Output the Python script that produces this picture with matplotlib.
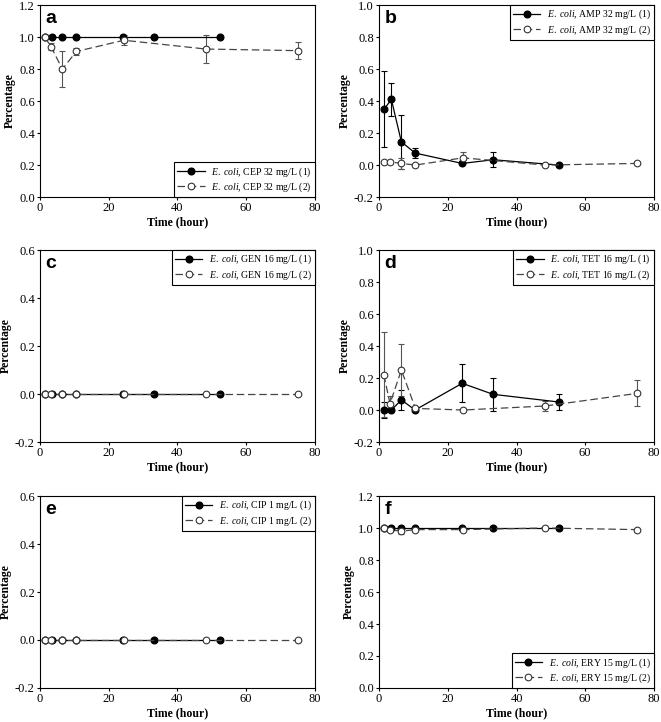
import matplotlib
matplotlib.use('Agg')
import matplotlib.pyplot as plt

plt.rcParams['font.family'] = ['Liberation Serif', 'DejaVu Serif']
plt.rcParams['mathtext.fontset'] = 'custom'
plt.rcParams['mathtext.it'] = 'Liberation Serif:italic'
plt.rcParams['mathtext.rm'] = 'Liberation Serif'

# time points (hour)
t1 = [1.5, 3.6, 6.5, 10.5, 24.2, 33.2, 52.3]
t2 = [1.4, 3.2, 6.5, 10.6, 24.4, 48.3, 75.1]

cep_y1 = [1.0, 1.0, 1.0, 1.0, 1.0, 1.0, 1.0]
cep_e1 = [0, 0, 0, 0, 0, 0, 0]
cep_y2 = [1.0, 0.94, 0.80, 0.91, 0.98, 0.925, 0.915]
cep_e2 = [0, 0.02, 0.115, 0.02, 0.03, 0.087, 0.053]

amp_y1 = [0.35, 0.41, 0.145, 0.075, 0.01, 0.033, 0.0]
amp_e1 = [0.24, 0.105, 0.17, 0.03, 0, 0.048, 0]
amp_y2 = [0.02, 0.02, 0.01, 0.0, 0.045, 0.0, 0.01]
amp_e2 = [0, 0, 0.035, 0, 0.035, 0, 0]

gen_y1 = [0, 0, 0, 0, 0, 0, 0]
gen_y2 = [0, 0, 0, 0, 0, 0, 0]

tet_y1 = [0.0, 0.0, 0.063, 0.0, 0.167, 0.098, 0.05]
tet_e1 = [0.05, 0, 0.065, 0, 0.12, 0.105, 0.05]
tet_y2 = [0.22, 0.04, 0.25, 0.01, 0.0, 0.025, 0.104]
tet_e2 = [0.265, 0.05, 0.165, 0, 0, 0.03, 0.082]

cip_y1 = [0, 0, 0, 0, 0, 0, 0]
cip_y2 = [0, 0, 0, 0, 0, 0, 0]

ery_y1 = [1.0, 1.0, 1.0, 1.0, 1.0, 1.0, 1.0]
ery_e1 = [0, 0, 0, 0, 0, 0, 0]
ery_y2 = [1.0, 0.99, 0.98, 0.99, 0.99, 1.0, 0.99]
ery_e2 = [0, 0, 0.02, 0, 0, 0, 0]

zeros = [0, 0, 0, 0, 0, 0, 0]

# (letter, drug label, y1, e1, y2, e2, ylim, legend loc)
panels = [
    ('a', 'CEP 32 mg/L', cep_y1, cep_e1, cep_y2, cep_e2, (0, 1.2), 'lower right'),
    ('b', 'AMP 32 mg/L', amp_y1, amp_e1, amp_y2, amp_e2, (-0.2, 1.0), 'upper right'),
    ('c', 'GEN 16 mg/L', gen_y1, zeros, gen_y2, zeros, (-0.2, 0.6), 'upper right'),
    ('d', 'TET 16 mg/L', tet_y1, tet_e1, tet_y2, tet_e2, (-0.2, 1.0), 'upper right'),
    ('e', 'CIP 1 mg/L', cip_y1, zeros, cip_y2, zeros, (-0.2, 0.6), 'upper right'),
    ('f', 'ERY 15 mg/L', ery_y1, ery_e1, ery_y2, ery_e2, (0, 1.2), 'lower right'),
]

fig = plt.figure(figsize=(6.61, 7.22), dpi=100)

lefts = [0.0605, 0.5734]
bottoms = [0.7271, 0.3878, 0.0471]
w, h = 0.416, 0.2659
dash = (0, (6, 3))

for i, (letter, drug, y1, e1, y2, e2, ylim, loc) in enumerate(panels):
    ax = fig.add_axes([lefts[i % 2], bottoms[i // 2], w, h])
    # error bars
    ax.errorbar(t1, y1, yerr=e1, fmt='none', ecolor='black', capsize=2.5,
                elinewidth=0.8, capthick=0.8, zorder=1)
    ax.errorbar(t2, y2, yerr=e2, fmt='none', ecolor='#555555', capsize=2.5,
                elinewidth=0.8, capthick=0.8, zorder=1)
    # lines + markers
    ax.plot(t1, y1, color='black', lw=0.9, marker='o', ms=4.8,
            mfc='black', mec='black',
            label=r'$\it{E.\ coli}$, ' + drug + ' (1)', zorder=2)
    ax.plot(t2, y2, color='#454545', lw=0.9, ls=dash,
            marker='o', ms=4.8, mfc='white', mec='#333333', mew=0.8,
            label=r'$\it{E.\ coli}$, ' + drug + ' (2)', zorder=3)
    ax.set_xlim(0, 80)
    ax.set_ylim(*ylim)
    ax.set_xticks([0, 20, 40, 60, 80])
    ticks = []
    v = ylim[0]
    while v <= ylim[1] + 1e-9:
        ticks.append(round(v, 1))
        v += 0.2
    ax.set_yticks(ticks)
    ax.yaxis.set_major_formatter(plt.FormatStrFormatter('%.1f'))
    ax.tick_params(direction='out', length=2.5, width=0.8, labelsize=9, pad=1.2)
    for s in ax.spines.values():
        s.set_linewidth(0.8)
    ax.set_xlabel('Time (hour)', fontsize=8.5, fontweight='bold', labelpad=1.5)
    ax.set_ylabel('Percentage', fontsize=8.5, fontweight='bold', labelpad=2)
    ax.text(0.02, 0.93, letter, transform=ax.transAxes, fontsize=14,
            fontweight='bold', family='Liberation Sans', va='center', ha='left')
    leg = ax.legend(loc=loc, fontsize=7, borderaxespad=0, fancybox=False,
                    framealpha=1, edgecolor='black', handlelength=2.8,
                    borderpad=0.3, labelspacing=0.2, handletextpad=0.7)
    leg.get_frame().set_linewidth(0.8)

fig.savefig('out.png', dpi=100)
